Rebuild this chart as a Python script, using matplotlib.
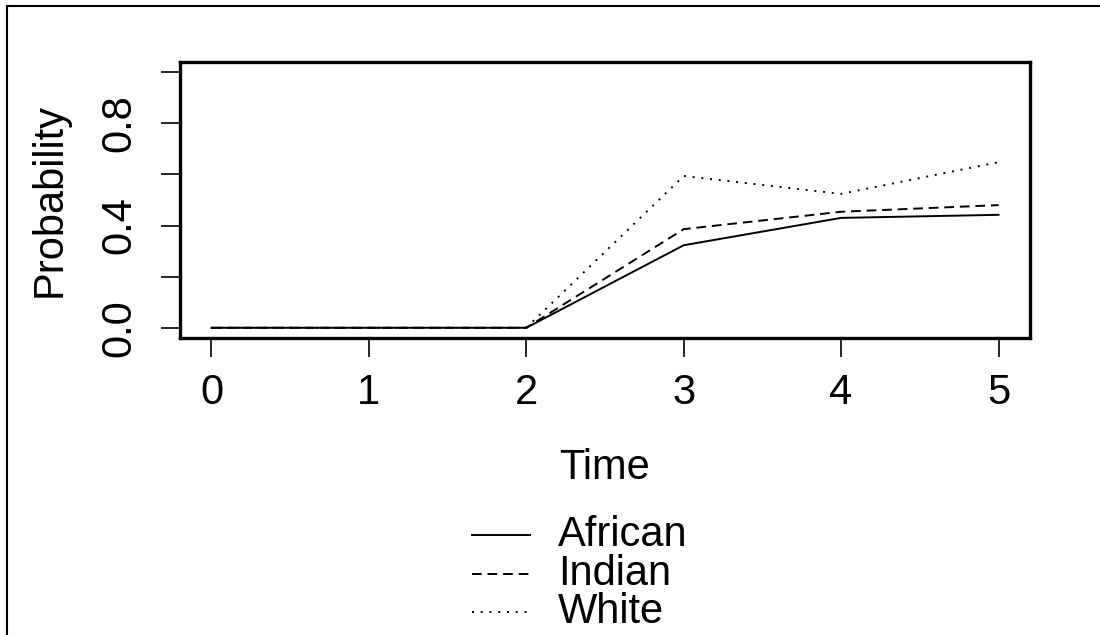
import matplotlib
matplotlib.use("Agg")
import matplotlib.pyplot as plt
from matplotlib.lines import Line2D
from matplotlib.patches import Rectangle

plt.rcParams["font.family"] = ["Liberation Sans", "DejaVu Sans"]

# ---- DATA ----
time = [0, 1, 2, 3, 4, 5]
african = [0.0, 0.0, 0.0, 0.323, 0.430, 0.442]
indian = [0.0, 0.0, 0.0, 0.386, 0.454, 0.480]
white = [0.0, 0.0, 0.0, 0.594, 0.524, 0.648]
series_names = ["African", "Indian", "White"]

W, H = 1100, 635
FS = 30
LW = 1.4

fig = plt.figure(figsize=(W / 100, H / 100), dpi=100)
ax = fig.add_axes([180 / W, 1 - 338 / H, 850 / W, 276 / H])

styles = [
    dict(linestyle="-"),
    dict(linestyle=(0, (5, 3))),
    dict(linestyle=(0, (1, 3.5))),
]
for vals, st in zip([african, indian, white], styles):
    ax.plot(time, vals, color="black", linewidth=LW, **st)

ax.set_xlim(-0.2, 5.2)
ax.set_ylim(-0.04, 1.04)
ax.set_xticks(time)
ax.set_xticklabels([str(t) for t in time])
ax.set_yticks([0, 0.2, 0.4, 0.6, 0.8, 1.0])
ax.set_yticklabels(["0.0", "", "0.4", "", "0.8", ""], rotation=90, va="center")

for s in ax.spines.values():
    s.set_linewidth(2.4)
ax.tick_params(axis="both", length=14, width=1.2, labelsize=FS, direction="out")
ax.tick_params(axis="x", pad=11)
ax.tick_params(axis="y", pad=15)

ax.set_xlabel("Time", fontsize=FS)
ax.set_ylabel("Probability", fontsize=FS)
ax.yaxis.set_label_coords((50 - 180) / 850, 0.5)
ax.yaxis.label.set_va("center")
ax.xaxis.set_label_coords(0.5, -(468 - 338) / 276)
ax.xaxis.label.set_va("center")

# ---- LEGEND (drawn below the plot, R style) ----
rows_y = [535, 574, 612]
for name, st, y in zip(series_names, styles, rows_y):
    fig.add_artist(Line2D([472 / W, 530 / W], [1 - y / H, 1 - y / H],
                          color="black", linewidth=LW, **st))
    fig.text(558 / W, 1 - y / H, name, fontsize=FS, va="center", ha="left")

# outer figure border
fig.add_artist(Rectangle((7 / W, -0.1), 1.2, 1.1 - 6 / H, transform=fig.transFigure,
                         fill=False, edgecolor="black", linewidth=1.5, clip_on=False))

fig.savefig("out.png", dpi=100)
